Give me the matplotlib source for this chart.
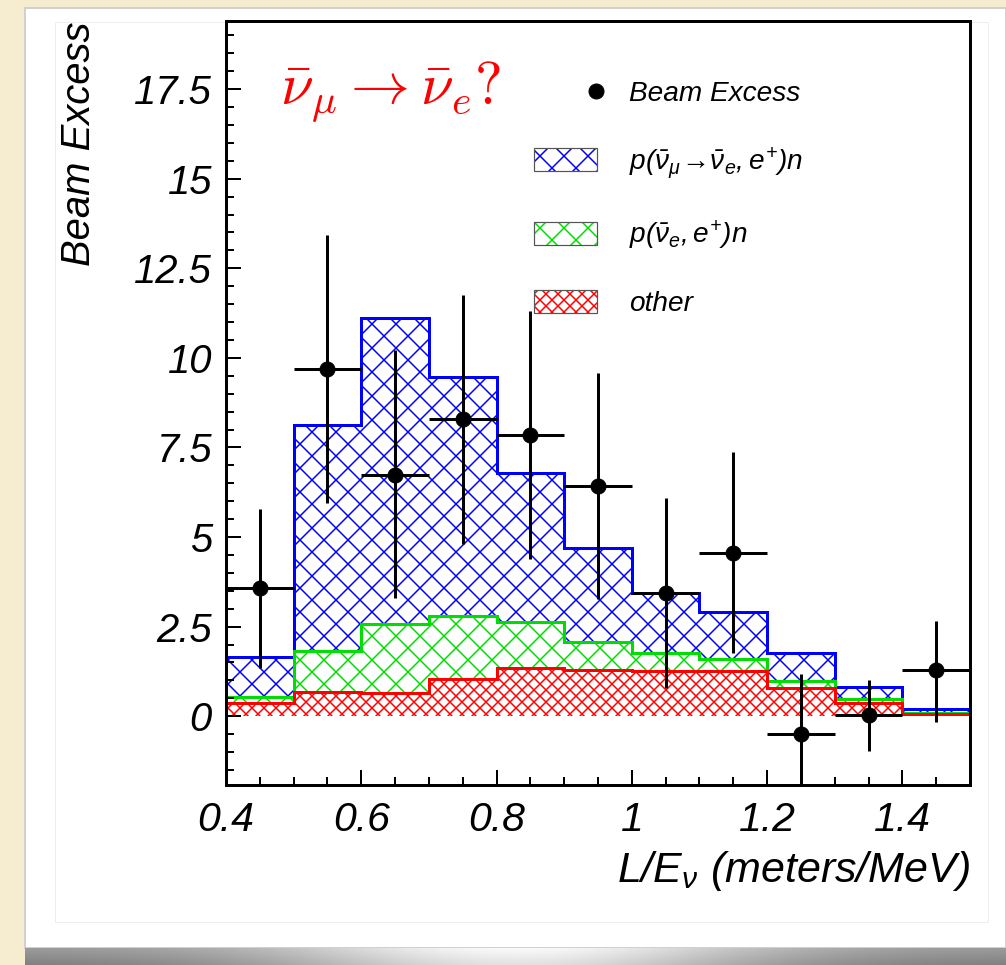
import matplotlib
matplotlib.use("Agg")
import matplotlib.pyplot as plt
import numpy as np
from matplotlib.patches import Rectangle, Patch
from matplotlib.lines import Line2D
from matplotlib.legend_handler import HandlerLine2D, HandlerTuple
from matplotlib.ticker import MultipleLocator, FuncFormatter

# bin edges in L/E (meters/MeV)
edges = [0.4, 0.5, 0.6, 0.7, 0.8, 0.9, 1.0, 1.1, 1.2, 1.3, 1.4, 1.5]
# stacked expectation tops (total, beam nu_e + other, other)
osc_total = [1.64, 8.12, 11.1, 9.46, 6.79, 4.70, 3.45, 2.92, 1.75, 0.82, 0.19]
nue_total = [0.53, 1.81, 2.56, 2.79, 2.62, 2.06, 1.76, 1.60, 0.97, 0.47, 0.09]
other = [0.36, 0.68, 0.65, 1.04, 1.35, 1.30, 1.26, 1.26, 0.78, 0.36, 0.05]

# data points
x_pts = [0.45, 0.55, 0.65, 0.75, 0.85, 0.95, 1.05, 1.15, 1.25, 1.35, 1.45]
y_pts = [3.57, 9.68, 6.73, 8.29, 7.85, 6.43, 3.45, 4.56, -0.50, 0.03, 1.28]
y_lo = [1.34, 5.95, 3.31, 4.81, 4.40, 3.28, 0.80, 1.75, -2.20, -0.97, -0.17]
y_hi = [5.79, 13.44, 10.21, 11.74, 11.30, 9.57, 6.09, 7.37, 1.19, 1.02, 2.67]
x_halfwidth = 0.05

plt.rcParams['font.family'] = ['Liberation Sans', 'DejaVu Sans']
plt.rcParams['font.style'] = 'italic'
plt.rcParams['mathtext.fontset'] = 'custom'
plt.rcParams['mathtext.rm'] = 'Liberation Sans:italic'
plt.rcParams['mathtext.it'] = 'Liberation Sans:italic'
plt.rcParams['mathtext.bf'] = 'Liberation Sans:italic:bold'
plt.rcParams['hatch.linewidth'] = 1.5

GREEN = '#00dd00'
DPI = 72
fig = plt.figure(figsize=(1006 / DPI, 965 / DPI), dpi=DPI, facecolor='#f6ecd0')

# white slide panel + frame
W, H = 1006, 965
fig.patches.append(Rectangle((25 / W, 1 - 948 / H), 1 - 25 / W, (948 - 8) / H,
                             transform=fig.transFigure, facecolor='white',
                             edgecolor='#d0d0d0', lw=2, zorder=-5))
fig.patches.append(Rectangle((55 / W, 1 - 922 / H), (988 - 55) / W, (922 - 22) / H,
                             transform=fig.transFigure, facecolor='none',
                             edgecolor='#eeeeee', lw=1, zorder=-4))
# shadow strip at the bottom
sh = fig.add_axes([25 / W, 0, 1 - 25 / W, (965 - 948) / H])
gx = np.linspace(-1, 1, 300)
gy = np.linspace(0, 1, 20)
shade = 0.5 + 0.38 * np.exp(-(gx[None, :] / 0.5) ** 2) + 0.1 * gy[:, None]
sh.imshow(shade, cmap='gray', vmin=0, vmax=1, aspect='auto', origin='lower')
sh.axis('off')

ax = fig.add_axes([226 / W, 1 - 785 / H, (970 - 226) / W, (785 - 21) / H])

# stacked histograms, drawn over each other
for vals, col, hatch in [(osc_total, 'blue', 'x'),
                         (nue_total, GREEN, 'x'),
                         (other, 'red', 'xx')]:
    ax.stairs(vals, edges, baseline=0, fill=True, facecolor='white',
              edgecolor=col, hatch=hatch, lw=0)
    ax.stairs(vals, edges, baseline=None, color=col, lw=3)

yerr = [np.array(y_pts) - np.array(y_lo), np.array(y_hi) - np.array(y_pts)]
ax.errorbar(x_pts, y_pts, xerr=x_halfwidth, yerr=yerr, fmt='o', color='black',
            ms=15, elinewidth=3, capsize=0, zorder=5, clip_on=True)

ax.set_xlim(0.4, 1.5)
ax.set_ylim(-1.92, 19.4)
ax.xaxis.set_major_locator(MultipleLocator(0.2))
ax.xaxis.set_minor_locator(MultipleLocator(0.05))
ax.yaxis.set_major_locator(MultipleLocator(2.5))
ax.yaxis.set_minor_locator(MultipleLocator(0.5))
fmt = FuncFormatter(lambda v, p: f"{v:g}")
ax.xaxis.set_major_formatter(fmt)
ax.yaxis.set_major_formatter(fmt)
ax.tick_params(which='both', direction='in', width=2, top=False, right=False)
ax.tick_params(which='major', length=15)
ax.tick_params(which='minor', length=8)
ax.tick_params(axis='y', labelsize=40, pad=14)
ax.tick_params(axis='x', labelsize=41, pad=16)
for s in ax.spines.values():
    s.set_linewidth(3)

ax.set_ylabel('Beam Excess', fontsize=40, loc='top', labelpad=36)
ax.set_xlabel(r'L/E$_{\nu}$ (meters/MeV)', fontsize=43, loc='right', labelpad=10)

ax.text(0.072, 0.908, r'$\bar{\nu}_{\mu} \rightarrow \bar{\nu}_{e}?$', transform=ax.transAxes,
        color='red', fontsize=59, math_fontfamily='cm', va='center', ha='left')


class RightMarker(HandlerLine2D):
    # put the single marker at the right end of the handle box
    def get_xdata(self, legend, xdescent, ydescent, width, height, fontsize):
        xr = -xdescent + width - 1
        return np.array([xr, xr]), np.array([xr])


def box(col, hatch):
    return (Patch(facecolor='white', edgecolor=col, hatch=hatch, lw=0),
            Patch(facecolor='none', edgecolor='#555555', lw=1.2))


dot = Line2D([], [], ls='none', marker='o', color='black', ms=15)
handles = [dot, box('blue', 'x'), box(GREEN, 'x'), box('red', 'xx')]
labels = ['Beam Excess',
          r'$p(\bar{\nu}_{\mu}\!\rightarrow\!\bar{\nu}_{e}, e^{+})n$',
          r'$p(\bar{\nu}_{e}, e^{+})n$',
          'other']
fig.legend(handles, labels, loc='upper left', bbox_to_anchor=(534 / W, 1 - 80 / H),
           frameon=False, fontsize=28, handlelength=2.25, handleheight=0.9,
           handletextpad=1.15, labelspacing=1.35, borderpad=0, borderaxespad=0,
           handler_map={dot: RightMarker(numpoints=1), tuple: HandlerTuple(ndivide=1, pad=0)})

fig.savefig('out.png', dpi=DPI, facecolor=fig.get_facecolor())
